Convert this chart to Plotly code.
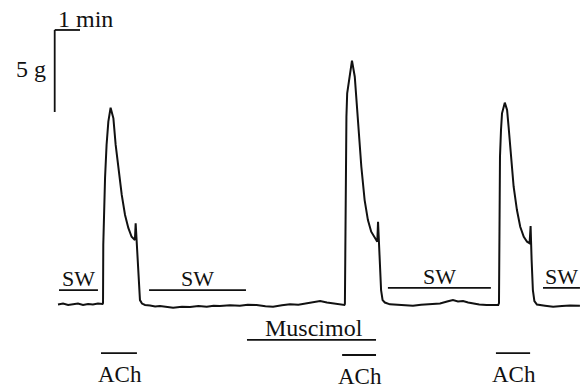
import plotly.graph_objects as go

# ---- data: time in minutes, isometric force in grams ----
time_min = [
    0.00, 0.20, 0.40, 0.59, 0.79, 0.99, 1.19, 1.38, 1.58, 1.76,
    1.78, 1.79, 1.82, 1.86, 1.92, 1.99, 2.08, 2.19, 2.28, 2.38, 2.52, 2.65, 2.78, 2.91, 3.04,
    3.07, 3.12, 3.20, 3.24, 3.32, 3.44,
    3.64, 3.84, 4.03, 4.30, 4.55, 4.90, 5.22, 5.55, 5.88, 6.15, 6.40, 6.80, 7.19, 7.50, 7.85,
    8.20, 8.50, 8.85, 9.17, 9.50, 9.83, 10.12, 10.36, 10.63, 10.88, 11.10, 11.32,
    11.34, 11.36, 11.37, 11.40, 11.43, 11.53, 11.62, 11.73, 11.79, 11.89, 11.99, 12.12,
    12.25, 12.38, 12.52, 12.62, 12.65, 12.69, 12.77, 12.83, 12.92, 13.12,
    13.32, 13.52, 13.78, 14.03, 14.35, 14.70, 15.10, 15.38, 15.61, 15.81, 16.01, 16.21,
    16.40, 16.65, 16.94, 17.20, 17.40,
    17.43, 17.44, 17.45, 17.47, 17.51, 17.55, 17.66, 17.75, 17.81, 17.91, 18.01, 18.14,
    18.27, 18.41, 18.54, 18.64, 18.68, 18.72, 18.77, 18.83, 18.93,
    19.25, 19.57, 19.92, 20.24, 20.63,
]
force_g = [
    0.03, 0.09, 0.00, 0.06, 0.09, 0.00, 0.06, 0.03, 0.09, 0.06,
    0.12, 3.66, 5.69, 7.74, 9.76, 11.18, 12.03, 11.38, 9.76, 8.35, 6.71, 5.49, 4.70, 4.16, 3.96,
    4.98, 3.35, 0.91, 0.30, 0.09, 0.00,
    -0.03, -0.09, -0.06, -0.13, -0.16, -0.10, -0.12, -0.06, -0.10, -0.04, -0.06, -0.02, -0.04, 0.01, 0.00,
    -0.07, -0.10, -0.02, 0.04, 0.02, 0.10, 0.15, 0.24, 0.15, 0.10, 0.05, 0.00,
    0.06, 3.35, 8.43, 11.48, 12.91, 14.13, 14.90, 13.92, 12.50, 10.47, 8.43, 6.40,
    5.18, 4.47, 4.07, 3.86, 5.08, 3.35, 0.91, 0.30, 0.15, 0.04,
    0.02, 0.00, -0.05, -0.04, 0.02, 0.04, 0.09, 0.21, 0.30, 0.21, 0.24, 0.15,
    0.10, 0.03, 0.00, -0.02, 0.00,
    0.12, 3.35, 7.01, 9.04, 10.67, 11.69, 12.34, 11.89, 10.87, 9.04, 7.21, 5.79,
    4.77, 4.16, 3.86, 3.76, 4.82, 2.74, 0.91, 0.24, 0.03,
    -0.04, -0.10, -0.06, -0.03, -0.04,
]

# treatment periods (minutes)
sw_start = [0.04, 3.60, 13.04, 19.17]
sw_end = [1.58, 7.43, 17.11, 20.63]
ach_start = [1.70, 11.23, 17.31]
ach_end = [3.12, 12.57, 18.66]
musc_start = [7.47]
musc_end = [12.57]

scale_min = 1   # minutes
scale_g = 5     # grams

# ---- layout constants ----
FONT = "Liberation Serif"
X_RANGE = [-2.292, 20.909]
Y_RANGE = [-5.061, 18.598]
SW_Y = [0.91, 0.91, 1.04, 1.04]
ACH_Y = [-2.93, -3.05, -2.93]
MUSC_Y = -2.13
SCALE_X0, SCALE_Y0 = -0.13, 11.77

fig = go.Figure()
fig.add_trace(go.Scatter(x=time_min, y=force_g, mode="lines",
                         line=dict(color="#111111", width=2), hoverinfo="skip",
                         showlegend=False))

shapes = []
annotations = []
line_style = dict(color="#111111", width=1.8)

for s, e, y in zip(sw_start, sw_end, SW_Y):
    shapes.append(dict(type="line", x0=s, x1=e, y0=y, y1=y, xref="x", yref="y", line=line_style))
    annotations.append(dict(x=(s + e) / 2, y=y, text="SW", showarrow=False, yanchor="bottom",
                            yshift=-3, xref="x", yref="y", font=dict(size=22)))

for s, e, y in zip(ach_start, ach_end, ACH_Y):
    shapes.append(dict(type="line", x0=s, x1=e, y0=y, y1=y, xref="x", yref="y", line=line_style))
    annotations.append(dict(x=(s + e) / 2 + 0.05, y=y, text="ACh", showarrow=False, yanchor="top",
                            yshift=-7, xref="x", yref="y", font=dict(size=23)))

for s, e in zip(musc_start, musc_end):
    shapes.append(dict(type="line", x0=s, x1=e, y0=MUSC_Y, y1=MUSC_Y, xref="x", yref="y", line=line_style))
    annotations.append(dict(x=(s + e) / 2 + 0.08, y=MUSC_Y, text="Muscimol", showarrow=False,
                            yanchor="bottom", yshift=-3, xref="x", yref="y", font=dict(size=24)))

# scale bar
shapes.append(dict(type="line", x0=SCALE_X0, x1=SCALE_X0, y0=SCALE_Y0, y1=SCALE_Y0 + scale_g,
                   xref="x", yref="y", line=line_style))
shapes.append(dict(type="line", x0=SCALE_X0, x1=SCALE_X0 + scale_min, y0=SCALE_Y0 + scale_g,
                   y1=SCALE_Y0 + scale_g, xref="x", yref="y", line=line_style))
annotations.append(dict(x=SCALE_X0 + 0.07, y=SCALE_Y0 + scale_g, text=f"{scale_min} min",
                        showarrow=False, xanchor="left", yanchor="bottom", yshift=-4,
                        xref="x", yref="y", font=dict(size=24)))
annotations.append(dict(x=SCALE_X0 - 0.25, y=SCALE_Y0 + scale_g / 2 + 0.1, text=f"{scale_g} g",
                        showarrow=False, xanchor="right", yanchor="middle",
                        xref="x", yref="y", font=dict(size=24)))

fig.update_layout(
    width=587, height=388,
    margin=dict(l=0, r=0, t=0, b=0),
    paper_bgcolor="white", plot_bgcolor="white",
    font=dict(family=FONT, size=22, color="#111111"),
    xaxis=dict(range=X_RANGE, visible=False, showgrid=False, zeroline=False),
    yaxis=dict(range=Y_RANGE, visible=False, showgrid=False, zeroline=False),
    shapes=shapes, annotations=annotations,
)

fig.write_html("out.html", config={"displayModeBar": False},
               post_script="document.body.style.margin='0';document.body.style.overflow='hidden';")
